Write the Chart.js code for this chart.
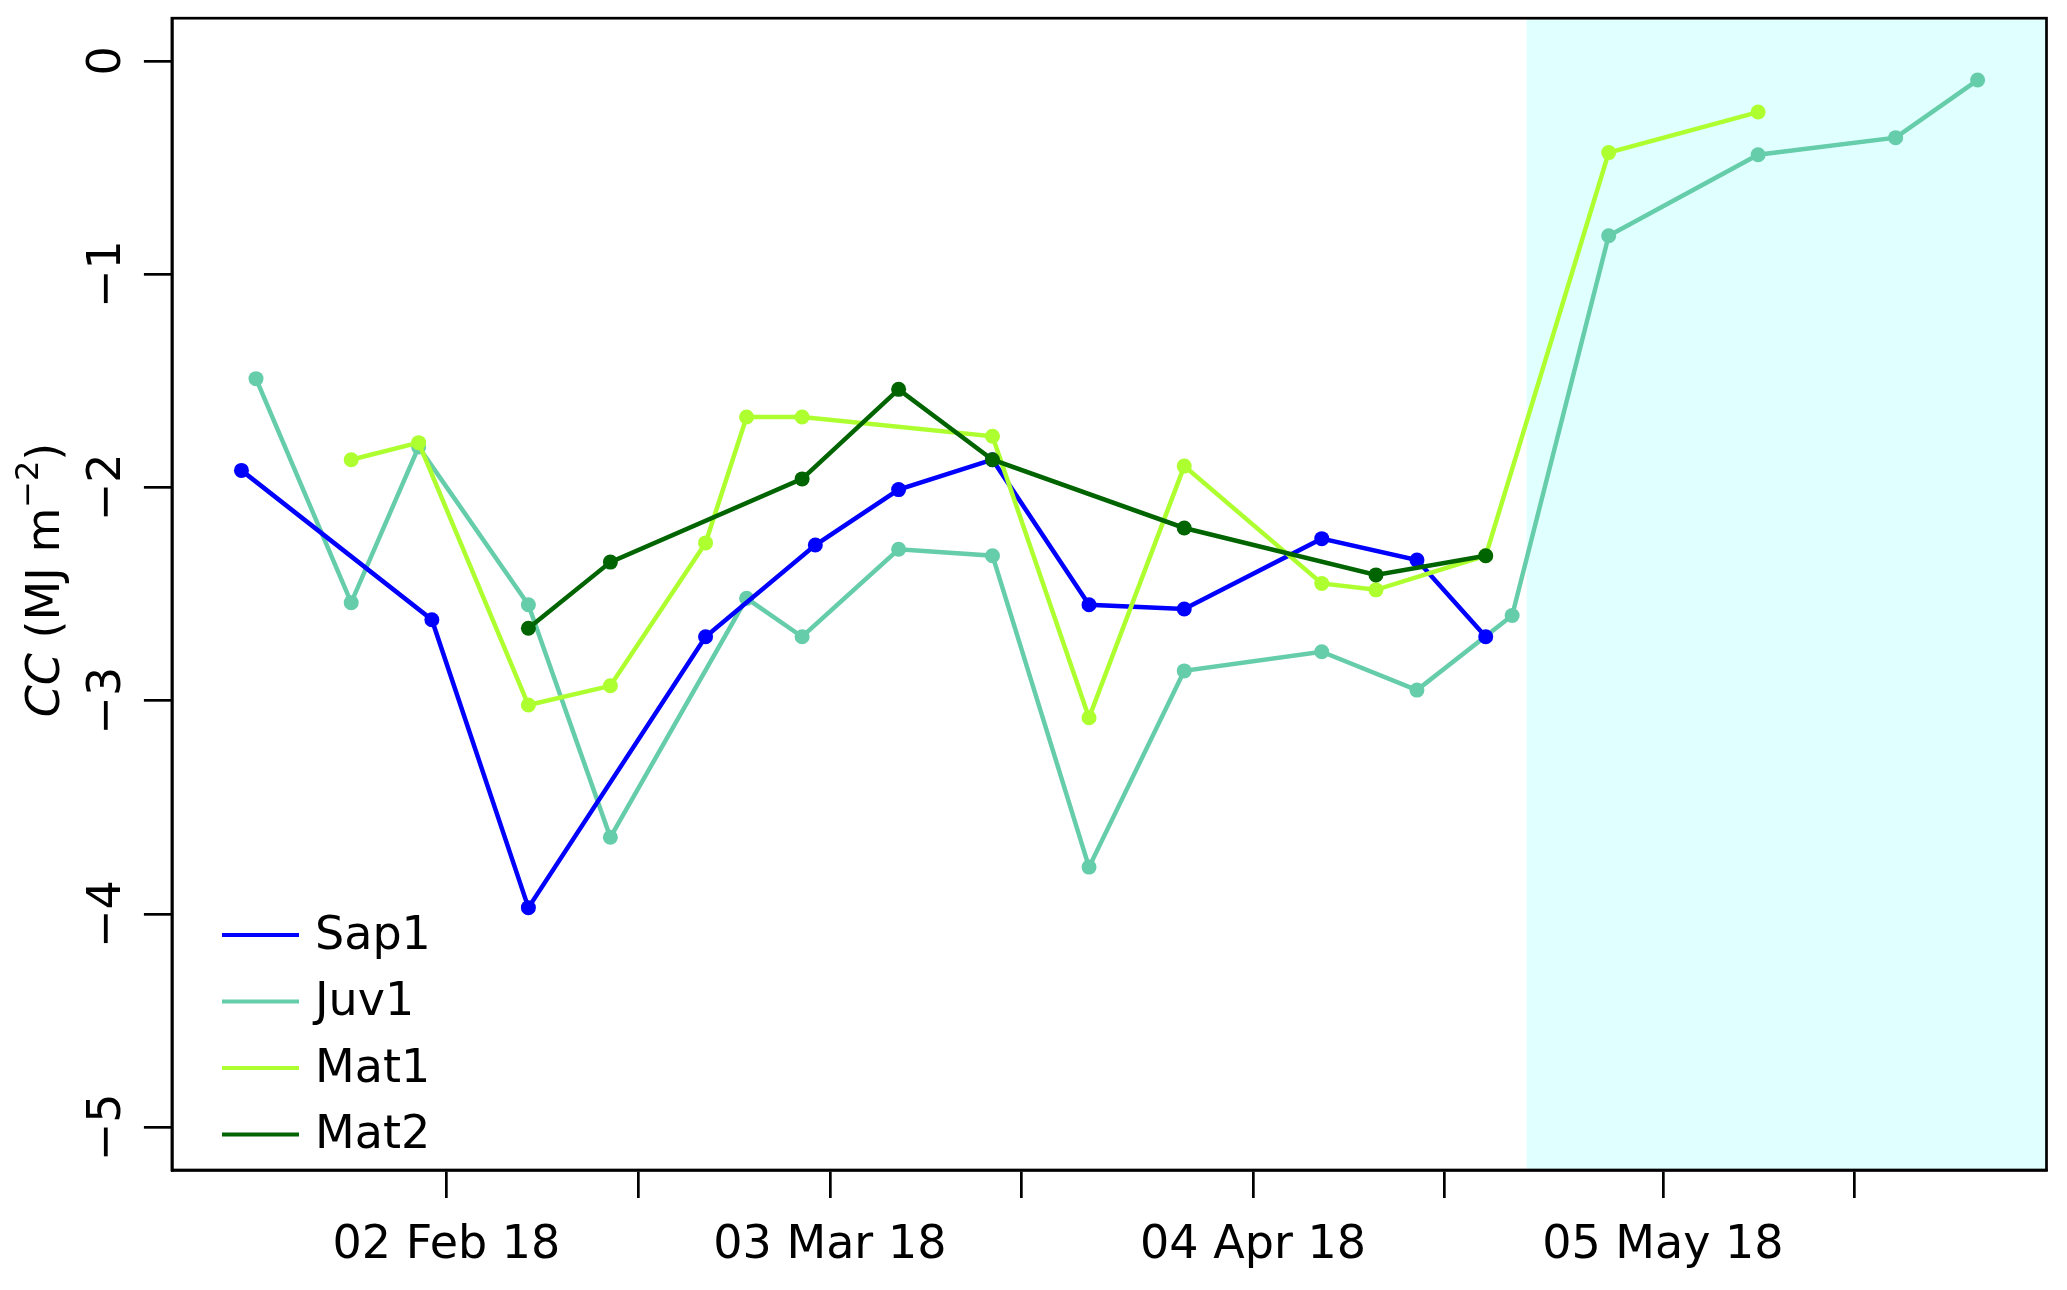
<!DOCTYPE html>
<html>
<head>
<meta charset="utf-8">
<script src="https://cdn.jsdelivr.net/npm/chart.js@4.4.0/dist/chart.umd.min.js"></script>
<style>
	html, body { margin: 0; padding: 0; background: #fff; }
	#ccChart { display: block; }
</style>
</head>
<body>
<canvas id="ccChart" width="2067" height="1290"></canvas>
<script>
/*
 * data (x = days since 01 Jan 2018)
 */
const sap1Days = [16.5, 30.9, 38.2, 51.6, 59.9, 66.2, 73.3, 80.6, 87.8, 98.2, 105.4, 110.6];
const sap1Values = [-1.92, -2.62, -3.97, -2.70, -2.27, -2.01, -1.87, -2.55, -2.57, -2.24, -2.34, -2.70];

const juv1Days = [17.6, 24.8, 29.9, 38.2, 44.4, 54.7, 58.9, 66.2, 73.3, 80.6, 87.8, 98.2, 105.4, 112.6, 119.9, 131.2, 141.6, 147.8];
const juv1Values = [-1.49, -2.54, -1.81, -2.55, -3.64, -2.52, -2.70, -2.29, -2.32, -3.78, -2.86, -2.77, -2.95, -2.60, -0.82, -0.44, -0.36, -0.09];

const mat1Days = [24.8, 29.9, 38.2, 44.4, 51.6, 54.7, 58.9, 73.3, 80.6, 87.8, 98.2, 102.3, 110.6, 119.9, 131.2];
const mat1Values = [-1.87, -1.79, -3.02, -2.93, -2.26, -1.67, -1.67, -1.76, -3.08, -1.90, -2.45, -2.48, -2.32, -0.43, -0.24];

const mat2Days = [38.2, 44.4, 58.9, 66.2, 73.3, 87.8, 102.3, 110.6];
const mat2Values = [-2.66, -2.35, -1.96, -1.54, -1.87, -2.19, -2.41, -2.32];

const seriesNames = ['Sap1', 'Juv1', 'Mat1', 'Mat2'];

const xTickDays = [32, 46.5, 61, 75.5, 93, 107.5, 124, 138.5];
const xTickLabels = ['02 Feb 18', '', '03 Mar 18', '', '04 Apr 18', '', '05 May 18', ''];
const yTicks = [0, -1, -2, -3, -4, -5];

// shaded period start
const shadeStartDay = 113.7;


const FONT = 'DejaVu Sans';

const toPoints = (days, values) => days.map((d, i) => ({ x: d, y: values[i] }));

const makeSet = (label, days, values, color, order) => ({
	label: label,
	data: toPoints(days, values),
	borderColor: color,
	backgroundColor: color,
	borderWidth: 4.5,
	pointRadius: 7.5,
	pointHoverRadius: 7.5,
	pointBorderWidth: 0,
	tension: 0,
	order: order
});


/*
 * plugins
 */
// light cyan band
const shadePlugin = {
	id: 'shade',
	beforeDatasetsDraw(chart) {
		const { ctx, chartArea, scales } = chart;
		const x0 = scales.x.getPixelForValue(shadeStartDay);
		ctx.save();
		ctx.fillStyle = '#E0FFFF';
		ctx.fillRect(x0, chartArea.top, chartArea.right - x0, chartArea.bottom - chartArea.top);
		ctx.restore();
	}
};

// box round the plot
const framePlugin = {
	id: 'frame',
	afterDatasetsDraw(chart) {
		const { ctx, chartArea } = chart;
		ctx.save();
		ctx.strokeStyle = '#000';
		ctx.lineWidth = 2.7;
		ctx.strokeRect(chartArea.left, chartArea.top, chartArea.right - chartArea.left, chartArea.bottom - chartArea.top);
		ctx.restore();
	}
};

// legend bottom left, no box
const legendPlugin = {
	id: 'cornerLegend',
	afterDraw(chart) {
		const ctx = chart.ctx;
		ctx.save();
		ctx.font = '46px "' + FONT + '"';
		ctx.textBaseline = 'middle';
		ctx.fillStyle = '#000';
		chart.data.datasets.forEach((ds, i) => {
			const y = 935 + i * 66.5;
			ctx.strokeStyle = ds.borderColor;
			ctx.lineWidth = 4;
			ctx.beginPath();
			ctx.moveTo(222, y);
			ctx.lineTo(299, y);
			ctx.stroke();
			ctx.fillText(ds.label, 315, y + 2);
		});
		ctx.restore();
	}
};

// y title: CC (MJ m^-2)
const yTitlePlugin = {
	id: 'yTitle',
	afterDraw(chart) {
		const ctx = chart.ctx;
		const parts = [
			{ text: 'CC', font: 'italic 46px "' + FONT + '"', rise: 0 },
			{ text: ' (MJ m', font: '46px "' + FONT + '"', rise: 0 },
			{ text: '\u22122', font: '32px "' + FONT + '"', rise: 21 },
			{ text: ')', font: '46px "' + FONT + '"', rise: 0 }
		];
		ctx.save();
		ctx.translate(59, 580);
		ctx.rotate(-Math.PI / 2);
		ctx.fillStyle = '#000';
		ctx.textBaseline = 'alphabetic';
		let total = 0;
		parts.forEach(p => {
			ctx.font = p.font;
			p.w = ctx.measureText(p.text).width;
			total += p.w;
		});
		let x = -total / 2;
		parts.forEach(p => {
			ctx.font = p.font;
			ctx.fillText(p.text, x, -p.rise);
			x += p.w;
		});
		ctx.restore();
	}
};


/*
 * chart
 */
new Chart(document.getElementById('ccChart'), {
	type: 'line',
	data: {
		datasets: [
			makeSet(seriesNames[0], sap1Days, sap1Values, '#0000FF', 2),
			makeSet(seriesNames[1], juv1Days, juv1Values, '#66CDAA', 3),
			makeSet(seriesNames[2], mat1Days, mat1Values, '#ADFF2F', 1),
			makeSet(seriesNames[3], mat2Days, mat2Values, '#006400', 0)
		]
	},
	options: {
		responsive: false,
		animation: false,
		devicePixelRatio: 1,
		layout: {
			padding: { left: 0, right: 20.5, top: 18.2, bottom: 0 }
		},
		plugins: {
			legend: { display: false },
			tooltip: { enabled: false }
		},
		scales: {
			x: {
				type: 'linear',
				min: 11.24,
				max: 153.01,
				afterBuildTicks: (scale) => {
					scale.ticks = xTickDays.map(v => ({ value: v }));
				},
				afterFit: (scale) => {
					scale.height = 120;
					scale.paddingLeft = 0;
					scale.paddingRight = 0;
				},
				grid: {
					drawOnChartArea: false,
					drawTicks: true,
					tickLength: 28,
					color: '#000',
					lineWidth: 2.7
				},
				border: { display: true, color: '#000', width: 2.7 },
				ticks: {
					autoSkip: false,
					maxRotation: 0,
					minRotation: 0,
					padding: 20,
					color: '#000',
					font: { family: FONT, size: 46 },
					callback: function(value) {
						const idx = xTickDays.indexOf(value);
						return idx >= 0 ? xTickLabels[idx] : '';
					}
				}
			},
			y: {
				min: -5.2,
				max: 0.2,
				afterBuildTicks: (scale) => {
					scale.ticks = yTicks.map(v => ({ value: v }));
				},
				afterFit: (scale) => {
					scale.width = 171.9;
					// rotated labels fit inside, no extra room needed
					scale.paddingTop = 0;
					scale.paddingBottom = 0;
				},
				grid: {
					drawOnChartArea: false,
					drawTicks: true,
					tickLength: 28,
					color: '#000',
					lineWidth: 2.7
				},
				border: { display: true, color: '#000', width: 2.7 },
				ticks: {
					minRotation: 90,
					maxRotation: 90,
					crossAlign: 'center',
					padding: 2,
					color: '#000',
					font: { family: FONT, size: 46 },
					callback: function(value) {
						return value < 0 ? '\u2212' + Math.abs(value) : String(value);
					}
				}
			}
		}
	},
	plugins: [shadePlugin, framePlugin, legendPlugin, yTitlePlugin]
});
</script>
</body>
</html>
